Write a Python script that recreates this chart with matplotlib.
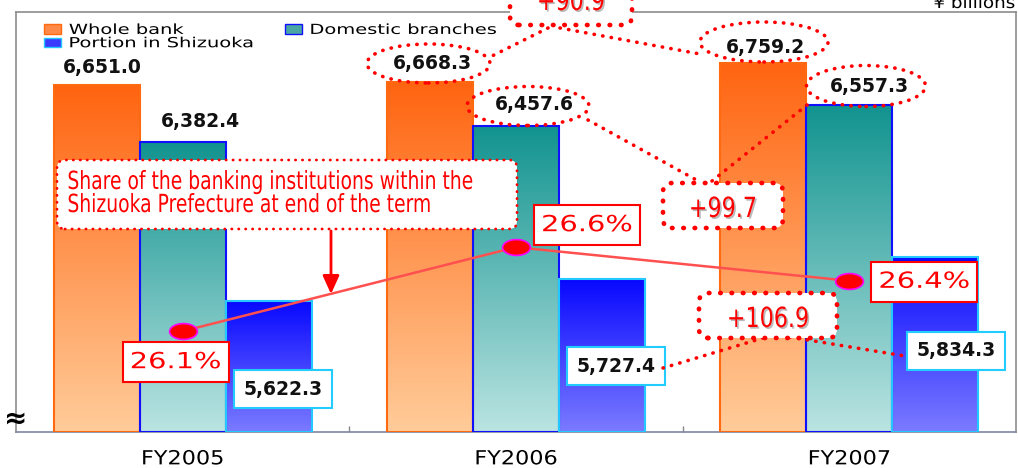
import numpy as np
import matplotlib
matplotlib.use('Agg')
import matplotlib.pyplot as plt
import matplotlib.patheffects as pe
from matplotlib.colors import LinearSegmentedColormap, to_rgba
from matplotlib.patches import Patch, Ellipse, FancyBboxPatch, FancyArrowPatch
from matplotlib.lines import Line2D
from matplotlib.path import Path
from matplotlib.transforms import Affine2D, IdentityTransform

# data (yen billions, share in %)
years = ['FY2005', 'FY2006', 'FY2007']
whole_bank = [6651.0, 6668.3, 6759.2]
domestic = [6382.4, 6457.6, 6557.3]
shizuoka = [5622.3, 5727.4, 5834.3]
share = [26.1, 26.6, 26.4]
series = ['Whole bank', 'Domestic branches', 'Portion in Shizuoka']
note = 'Share of the banking institutions within the\nShizuoka Prefecture at end of the term'
unit = '¥ billions'

# FY2006 -> FY2007 increase of each series
increases = [round(s[2] - s[1], 1) for s in (whole_bank, domestic, shizuoka)]

W, H = 1018, 468
fig = plt.figure(figsize=(W / 100, H / 100), dpi=100)
ax = fig.add_axes([16 / W, 36 / H, 1000 / W, 420 / H])
PX = IdentityTransform()


def P(x, y):
    # picture pixel (origin top left) -> display coords
    return x, H - y


class Stretch(pe.AbstractPathEffect):
    """draw text wider / narrower than the font (the original is squeezed)"""

    def __init__(self, sx, anchor=0.5, offset=(0, 0), color=None):
        super().__init__(offset)
        self.sx = sx
        self.anchor = anchor
        self.color = to_rgba(color) if color else None

    def draw_path(self, renderer, gc, tpath, affine, rgbFace=None):
        ext = tpath.get_extents()
        cx = ext.x0 + self.anchor * ext.width
        t = Affine2D().translate(-cx, 0).scale(self.sx, 1).translate(cx, 0) + affine
        t = t + self._offset_transform(renderer)
        renderer.draw_path(gc, tpath, t, self.color if self.color else rgbFace)


def pad_box(px, py):
    # square box with its own x / y padding (in font sizes)
    def box(x0, y0, width, height, mutation_size):
        dx, dy = px * mutation_size, py * mutation_size
        a, b, c, d = x0 - dx, y0 - dy, x0 + width + dx, y0 + height + dy
        return Path([(a, b), (c, b), (c, d), (a, d), (a, b)], closed=True)
    return box


x = np.arange(len(years))
bw = 0.258
base = 5000
grad = np.linspace(0, 1, 256).reshape(-1, 1)
styles = [('#ff6410', '#ffcc9a', '#ff6a10'),
          ('#11938f', '#bae4e2', '#1010ff'),
          ('#0808ff', '#7b7bff', '#22c8ff')]
label_off = [[(6, 18), (2, 18), (2, 15)],
             [(18, 20), (18, 21), (20, 18)],
             [(14, -88), (14, -87), (21, -94)]]

for i, vals in enumerate([whole_bank, domestic, shizuoka]):
    top, bot, edge = styles[i]
    cmap = LinearSegmentedColormap.from_list('g%d' % i, [bot, top])
    bars = ax.bar(x + (i - 1) * bw, np.array(vals) - base, bw, bottom=base,
                  facecolor='none', edgecolor=edge, lw=1.5, zorder=3)
    for b in bars:
        x0, y0 = b.get_xy()
        ax.imshow(grad, extent=[x0, x0 + b.get_width(), y0, y0 + b.get_height()],
                  origin='lower', cmap=cmap, aspect='auto', zorder=2)
    for j, v in enumerate(vals):
        box = None
        if i == 2:
            box = dict(boxstyle='square,pad=0.5', fc='white', ec='#22ccff', lw=1.5)
        ax.annotate(f'{v:,.1f}', (x[j] + (i - 1) * bw, v), xytext=label_off[i][j],
                    textcoords='offset pixels', ha='center', va='center',
                    fontsize=13.5, fontweight='bold', color='#111111', bbox=box, zorder=6)

ax.set_xlim(-0.5, 2.5)
ax.set_ylim(base, 7000)
ax.set_aspect('auto')

ax.set_xticks(x, years, fontsize=14)
ax.set_xticks([0.5, 1.5], minor=True)
ax.tick_params(axis='x', which='major', length=0, pad=12.5)
ax.tick_params(axis='x', which='minor', direction='in', length=4.5, width=1, color='#888888')
for t in ax.get_xticklabels():
    t.set_path_effects([Stretch(1.15)])
ax.set_yticks([])
for s in ax.spines.values():
    s.set_color('#8c8c8c')
    s.set_linewidth(1.2)
ax.spines['bottom'].set_color('#7d86a4')

leg = ax.legend([Patch(fc='#ff8a48', ec='#ff6a10'), Patch(fc='#3a3aff', ec='#22c8ff'),
                 Patch(fc='#4aa6a3', ec='#1010ff')],
                [series[0], series[2], series[1]], ncol=2, loc='upper left',
                bbox_to_anchor=(0.028, 0.974), frameon=False, fontsize=10, borderpad=0,
                borderaxespad=0, handlelength=1.22, handleheight=0.7, handletextpad=0.58,
                columnspacing=6.0, labelspacing=-0.05)
for t in leg.get_texts():
    t.set_path_effects([Stretch(1.4, 0)])

# share line on its own hidden scale
ax2 = ax.twinx()
ax2.set_ylim(25.5, 28)
ax2.set_axis_off()
tt = np.linspace(0, 2 * np.pi, 50)
oval = Path(np.column_stack([1.75 * np.cos(tt), np.sin(tt)]))
ax2.plot(x, share, color='#ff5050', lw=1.8, marker=oval, ms=20, mfc='#ff0000',
         mec='#ff00ff', mew=1.2, zorder=4)
pct_off = [(-7, -31), (71, 22), (75, -1)]
for j, s in enumerate(share):
    ax2.annotate(f'{s:.1f}%', (x[j], s), xytext=pct_off[j], textcoords='offset pixels',
                 ha='center', va='center', fontsize=16, color='red',
                 path_effects=[Stretch(1.3)],
                 bbox=dict(boxstyle=pad_box(0.79, 0.45), fc='white', ec='red', lw=1.5), zorder=6)

# dotted call-outs
dot = (0, (0.1, 2.3))
for cx, cy, w, h in [(428.5, 63.5, 123, 39), (528, 106, 122, 39), (764, 42, 128, 40), (866, 86, 119, 41)]:
    fig.add_artist(Ellipse(P(cx, cy), w, h, transform=PX, fill=False, ec='red', lw=2.6,
                           ls=dot, capstyle='round', zorder=2))

links = [((548, 28), (490, 57)), ((560, 28), (700, 54)), ((588, 120), (700, 182)),
         ((712, 181), (812, 101)), ((763, 338), (663, 368)), ((790, 337), (905, 356))]
for a, b in links:
    (xa, ya), (xb, yb) = P(*a), P(*b)
    fig.add_artist(Line2D([xa, xb], [ya, yb], transform=PX, color='red', lw=2.6, ls=dot,
                          dash_capstyle='round', zorder=1))

diff_boxes = [(510, -25, 632, 25), (663, 183, 783, 228), (699, 293, 837, 338)]
diff_text = [(571, 10), (723, 217), (768, 327)]
for (x0, y0, x1, y1), (tx, ty), d in zip(diff_boxes, diff_text, increases):
    fig.add_artist(FancyBboxPatch(P(x0, y1), x1 - x0, y1 - y0,
                                  boxstyle='round,pad=0,rounding_size=9', transform=PX,
                                  fc='white', ec='red', lw=3.4, ls=dot, capstyle='round', zorder=2))
    fig.text(tx, H - ty, f'+{d:.1f}', transform=PX, ha='center', va='baseline', fontsize=20,
             color='red', zorder=3,
             path_effects=[Stretch(0.8, 0.5, (1.2, -1.2), '#bbbbbb'), Stretch(0.8)])

fig.add_artist(FancyBboxPatch(P(57, 229), 460, 69, boxstyle='round,pad=0,rounding_size=8',
                              transform=PX, fc='white', ec='red', lw=2, ls=(0, (0.1, 2.4)),
                              capstyle='round', zorder=2))
fig.text(67, H - 193.5, note, transform=PX, ha='left', va='center', fontsize=18, color='red',
         linespacing=0.95, zorder=3, path_effects=[Stretch(0.75, 0)])
fig.add_artist(FancyArrowPatch(P(331, 231), P(331, 294), transform=PX,
                               arrowstyle='-|>,head_length=11,head_width=5', mutation_scale=1,
                               color='red', lw=2, shrinkA=0, shrinkB=0, zorder=3))

fig.text(16, H - 419, '≈', transform=PX, ha='center', va='center', fontsize=20, fontweight='bold')
fig.text(1015, H - 8, unit, transform=PX, ha='right', va='baseline', fontsize=12,
         path_effects=[Stretch(1.1, 1)])

fig.savefig('out.png', dpi=100)
